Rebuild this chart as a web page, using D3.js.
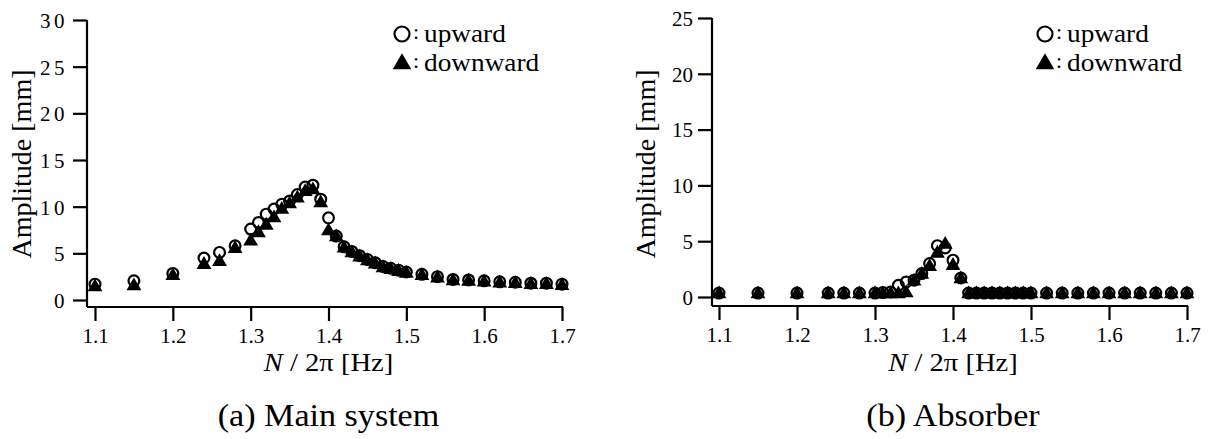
<!DOCTYPE html>
<html>
<head>
<meta charset="utf-8">
<script src="https://cdn.jsdelivr.net/npm/d3@7"></script>
<style>
  body { margin: 0; background: #fff; }
</style>
</head>
<body>
<div id="chart"></div>
<script>
const W = 1212, H = 439;
const SERIF = "\"Liberation Serif\"";

// excitation frequency N/2pi [Hz], shared by both panels
const freq = [1.10, 1.15, 1.20, 1.24, 1.26, 1.28, 1.30, 1.31, 1.32, 1.33, 1.34, 1.35, 1.36, 1.37,
  1.38, 1.39, 1.40, 1.41, 1.42, 1.43, 1.44, 1.45, 1.46, 1.47, 1.48, 1.49, 1.50,
  1.52, 1.54, 1.56, 1.58, 1.60, 1.62, 1.64, 1.66, 1.68, 1.70];

// (a) main system amplitude [mm]
const mainUp = [1.7, 2.05, 2.85, 4.5, 5.1, 5.8, 7.6, 8.3, 9.2, 9.75, 10.25, 10.6, 11.3, 12.1,
  12.3, 10.8, 8.8, 6.85, 5.7, 5.2, 4.75, 4.35, 4.0, 3.6, 3.4, 3.2, 3.0,
  2.75, 2.5, 2.2, 2.15, 2.05, 1.95, 1.9, 1.8, 1.8, 1.7];
const mainDown = [1.5, 1.6, 2.7, 3.9, 4.2, 5.6, 6.4, 7.3, 8.1, 8.9, 9.8, 10.4, 11.0, 11.7,
  11.9, 10.5, 7.5, 6.85, 5.65, 5.15, 4.7, 4.3, 3.95, 3.55, 3.35, 3.15, 2.95,
  2.7, 2.45, 2.15, 2.1, 2.0, 1.9, 1.85, 1.75, 1.75, 1.65];

// (b) absorber amplitude [mm]
const absUp = [0.35, 0.35, 0.35, 0.35, 0.35, 0.35, 0.35, 0.4, 0.45, 1.05, 1.35, 1.5, 2.1, 3.0,
  4.6, 4.4, 3.3, 1.7, 0.35, 0.35, 0.35, 0.35, 0.35, 0.35, 0.35, 0.35, 0.35,
  0.35, 0.35, 0.35, 0.35, 0.35, 0.35, 0.35, 0.35, 0.35, 0.35];
const absDown = [0.35, 0.35, 0.35, 0.35, 0.35, 0.35, 0.35, 0.35, 0.35, 0.35, 0.45, 1.5, 2.1, 2.8,
  4.0, 4.8, 2.9, 1.7, 0.35, 0.35, 0.35, 0.35, 0.35, 0.35, 0.35, 0.35, 0.35,
  0.35, 0.35, 0.35, 0.35, 0.35, 0.35, 0.35, 0.35, 0.35, 0.35];

const xTicks = [1.1, 1.2, 1.3, 1.4, 1.5, 1.6, 1.7];

const svg = d3.select("#chart").append("svg")
  .attr("width", W).attr("height", H);

const triangle = d3.symbol().type(d3.symbolTriangle).size(95);

function panel(opt) {
  const x = d3.scaleLinear().domain([1.1, 1.7]).range([opt.x0, opt.x1]);
  const y = d3.scaleLinear().domain([0, opt.ymax]).range([opt.y0, opt.y1]);
  const g = svg.append("g");
  const xMid = (x(1.1) + x(1.7)) / 2;

  // axis lines (y axis runs down to the x axis, which sits below zero)
  g.append("line")
    .attr("x1", opt.axX).attr("x2", opt.axX)
    .attr("y1", y(opt.ymax)).attr("y2", opt.axY)
    .attr("stroke", "#000").attr("stroke-width", 2.2);
  g.append("line")
    .attr("x1", opt.axX).attr("x2", x(1.7) + 1)
    .attr("y1", opt.axY).attr("y2", opt.axY)
    .attr("stroke", "#000").attr("stroke-width", 2.2);

  const xa = g.append("g")
    .attr("transform", `translate(0,${opt.axY})`)
    .call(d3.axisBottom(x).tickValues(xTicks).tickSize(14).tickPadding(7)
      .tickFormat(d3.format(".1f")));
  xa.select(".domain").remove();
  xa.selectAll("line").attr("stroke-width", 2.2);
  xa.selectAll("text").attr("font-size", 21);

  const ya = g.append("g")
    .attr("transform", `translate(${opt.axX},0)`)
    .call(d3.axisLeft(y).tickValues(opt.yTicks).tickSize(14).tickPadding(5));
  ya.select(".domain").remove();
  ya.selectAll("line").attr("stroke-width", 2.2);
  ya.selectAll("text").attr("font-size", 21)
    .attr("letter-spacing", opt.spaced ? 3.5 : 0)
    .attr("dy", "0.35em");

  // markers: open circles for upward sweep, filled triangles for downward
  g.append("g").selectAll("circle")
    .data(freq)
    .join("circle")
    .attr("cx", d => x(d))
    .attr("cy", (d, i) => y(opt.up[i]))
    .attr("r", 5.4)
    .attr("fill", "none")
    .attr("stroke", "#000")
    .attr("stroke-width", 2.2);
  g.append("g").selectAll("path")
    .data(freq)
    .join("path")
    .attr("d", triangle)
    .attr("transform", (d, i) => `translate(${x(d)},${y(opt.down[i]) + 1})`)
    .attr("fill", "#000");

  // axis titles
  g.append("text")
    .attr("transform", `translate(${opt.labX},164) rotate(-90)`)
    .attr("text-anchor", "middle")
    .attr("font-size", 28)
    .text("Amplitude [mm]");
  const xt = g.append("text")
    .attr("transform", `translate(${xMid},371) scale(1.1,1)`)
    .attr("text-anchor", "middle")
    .attr("font-size", 26);
  xt.append("tspan").attr("font-style", "italic").text("N");
  xt.append("tspan").text(" / 2π [Hz]");

  g.append("text")
    .attr("transform", `translate(${xMid},426) scale(1.1,1)`)
    .attr("text-anchor", "middle")
    .attr("font-size", 31)
    .text(opt.caption);

  // legend
  const lg = g.append("g").attr("transform", `translate(${opt.legX},0)`);
  lg.append("circle").attr("cx", 0).attr("cy", 34).attr("r", 7.5)
    .attr("fill", "none").attr("stroke", "#000").attr("stroke-width", 2.2);
  lg.append("path")
    .attr("d", d3.symbol().type(d3.symbolTriangle).size(150))
    .attr("transform", "translate(0,64)").attr("fill", "#000");
  [["upward", 42], ["downward", 71]].forEach(([t, yy]) => {
    lg.append("text").attr("x", 11).attr("y", yy - 3).attr("font-size", 22).text(":");
    lg.append("text").attr("transform", `translate(22,${yy}) scale(1.05,1)`)
      .attr("font-size", 26).text(t);
  });
}

panel({
  x0: 95, x1: 562, y0: 300, y1: 20, ymax: 30, axX: 87, axY: 307,
  yTicks: [0, 5, 10, 15, 20, 25, 30], spaced: true,
  up: mainUp, down: mainDown, labX: 31, legX: 402,
  caption: "(a) Main system"
});

panel({
  x0: 719, x1: 1187, y0: 297, y1: 18, ymax: 25, axX: 712, axY: 306,
  yTicks: [0, 5, 10, 15, 20, 25], spaced: false,
  up: absUp, down: absDown, labX: 655, legX: 1045,
  caption: "(b) Absorber"
});

// every text in the serif face, set directly on the element
svg.selectAll("g").attr("font-family", null);
svg.selectAll("text").style("font-family", SERIF).attr("fill", "#000");
</script>
</body>
</html>
